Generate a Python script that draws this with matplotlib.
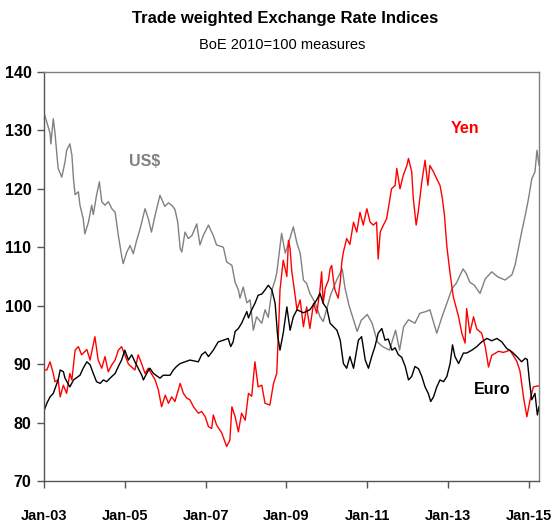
import numpy as np
import matplotlib
matplotlib.use("Agg")
import matplotlib.pyplot as plt

plt.rcParams['font.family'] = ['Liberation Sans', 'DejaVu Sans']

# time in fractional years, index values (BoE 2010=100)
usd_t = [2003.00, 2003.07, 2003.15, 2003.17, 2003.23, 2003.27, 2003.35, 2003.44, 2003.52, 2003.56,
         2003.64, 2003.69, 2003.73, 2003.77, 2003.85, 2003.89, 2003.97, 2004.01, 2004.10, 2004.18,
         2004.22, 2004.30, 2004.37, 2004.43, 2004.51, 2004.59, 2004.68, 2004.76, 2004.84, 2004.92,
         2004.96, 2005.05, 2005.13, 2005.21, 2005.29, 2005.38, 2005.50, 2005.58, 2005.66, 2005.75,
         2005.87, 2005.99, 2006.08, 2006.16, 2006.24, 2006.31, 2006.37, 2006.41, 2006.49, 2006.57,
         2006.66, 2006.78, 2006.86, 2006.94, 2007.07, 2007.19, 2007.27, 2007.44, 2007.52, 2007.65,
         2007.73, 2007.81, 2007.85, 2007.93, 2008.02, 2008.10, 2008.18, 2008.26, 2008.39, 2008.47,
         2008.55, 2008.64, 2008.72, 2008.76, 2008.88, 2008.97, 2009.05, 2009.17, 2009.26, 2009.34,
         2009.42, 2009.50, 2009.58, 2009.71, 2009.83, 2009.91, 2010.00, 2010.10, 2010.25, 2010.38,
         2010.45, 2010.55, 2010.75, 2010.85, 2011.00, 2011.12, 2011.25, 2011.38, 2011.55, 2011.70,
         2011.80, 2011.90, 2012.02, 2012.18, 2012.30, 2012.45, 2012.55, 2012.72, 2012.85, 2013.00,
         2013.10, 2013.20, 2013.37, 2013.45, 2013.54, 2013.65, 2013.79, 2013.92, 2014.08, 2014.24,
         2014.41, 2014.58, 2014.66, 2014.74, 2014.82, 2014.91, 2014.99, 2015.07, 2015.15, 2015.20,
         2015.25]
usd_v = [133.0, 131.4, 129.5, 127.7, 132.0, 129.7, 123.5, 122.0, 124.6, 126.6,
         127.7, 125.8, 121.7, 119.0, 119.5, 117.2, 114.9, 112.3, 114.3, 117.2,
         115.6, 118.9, 121.2, 117.8, 117.2, 117.8, 116.6, 116.0, 112.0, 108.6,
         107.2, 109.2, 110.3, 108.9, 111.1, 113.2, 116.6, 114.9, 112.6, 115.5,
         118.9, 117.0, 117.6, 117.2, 116.5, 114.3, 109.8, 109.2, 112.6, 111.5,
         112.0, 114.0, 110.4, 112.0, 113.8, 112.0, 110.4, 110.0, 107.5, 106.9,
         104.0, 102.7, 101.3, 103.2, 100.5, 101.0, 95.8, 98.1, 97.0, 99.3,
         98.0, 102.7, 104.4, 105.6, 112.4, 109.0, 110.7, 113.5, 110.7, 109.0,
         104.4, 103.8, 102.1, 100.5, 98.1, 97.3, 99.5, 102.0, 104.5, 106.3,
         103.0, 100.0, 95.6, 97.5, 98.5, 97.0, 93.8, 93.0, 92.4, 95.8,
         92.4, 96.4, 97.6, 97.0, 98.7, 99.0, 99.3, 95.3, 98.1, 101.0,
         103.0, 103.8, 106.3, 105.5, 104.0, 103.5, 102.1, 104.6, 105.8, 104.9,
         104.4, 105.3, 107.0, 109.8, 112.6, 115.5, 118.3, 121.7, 122.9, 126.6,
         124.1]

yen_t = [2003.00, 2003.07, 2003.15, 2003.23, 2003.27, 2003.35, 2003.40, 2003.48, 2003.56, 2003.64,
         2003.69, 2003.77, 2003.85, 2003.93, 2004.06, 2004.14, 2004.26, 2004.34, 2004.43, 2004.51,
         2004.59, 2004.68, 2004.76, 2004.84, 2004.92, 2005.00, 2005.09, 2005.25, 2005.33, 2005.42,
         2005.50, 2005.58, 2005.75, 2005.83, 2005.91, 2006.00, 2006.08, 2006.16, 2006.24, 2006.37,
         2006.45, 2006.53, 2006.61, 2006.70, 2006.82, 2006.90, 2006.99, 2007.07, 2007.15, 2007.19,
         2007.27, 2007.40, 2007.52, 2007.60, 2007.65, 2007.73, 2007.81, 2007.89, 2007.98, 2008.06,
         2008.14, 2008.22, 2008.30, 2008.39, 2008.47, 2008.59, 2008.68, 2008.76, 2008.82, 2008.84,
         2008.92, 2009.01, 2009.05, 2009.09, 2009.13, 2009.21, 2009.26, 2009.34, 2009.42, 2009.50,
         2009.58, 2009.67, 2009.75, 2009.83, 2009.87, 2009.91, 2009.96, 2010.04, 2010.08, 2010.12,
         2010.16, 2010.20, 2010.28, 2010.33, 2010.37, 2010.41, 2010.49, 2010.57, 2010.66, 2010.74,
         2010.82, 2010.90, 2010.99, 2011.07, 2011.15, 2011.23, 2011.27, 2011.32, 2011.40, 2011.48,
         2011.52, 2011.56, 2011.60, 2011.69, 2011.73, 2011.81, 2011.89, 2011.98, 2012.02, 2012.10,
         2012.14, 2012.21, 2012.26, 2012.35, 2012.43, 2012.50, 2012.55, 2012.64, 2012.72, 2012.80,
         2012.86, 2012.91, 2012.97, 2013.05, 2013.13, 2013.26, 2013.34, 2013.42, 2013.46, 2013.54,
         2013.63, 2013.71, 2013.83, 2013.92, 2014.00, 2014.08, 2014.25, 2014.37, 2014.53, 2014.70,
         2014.78, 2014.87, 2014.95, 2015.03, 2015.11, 2015.25]
yen_v = [89.0, 89.0, 90.4, 88.4, 87.0, 87.3, 84.4, 86.4, 85.0, 88.4,
         87.3, 92.4, 93.0, 91.6, 92.5, 90.7, 94.7, 90.7, 89.3, 91.3,
         88.7, 89.9, 90.7, 92.4, 93.0, 91.6, 90.0, 89.0, 91.6, 90.0,
         88.4, 89.3, 87.3, 85.6, 82.7, 84.7, 83.3, 84.4, 83.6, 86.7,
         85.0, 84.2, 83.9, 82.7, 81.6, 81.9, 81.0, 79.3, 79.0, 81.3,
         79.6, 78.2, 75.9, 77.0, 82.7, 81.0, 78.4, 81.6, 80.4, 85.0,
         84.5, 90.4, 86.1, 86.4, 83.3, 83.0, 86.7, 88.4, 98.7, 102.7,
         107.8, 105.0, 111.2, 109.8, 106.0, 102.0, 99.3, 101.0, 96.4, 99.8,
         96.1, 100.4, 98.7, 102.7, 105.8, 100.4, 103.0, 104.4, 106.3, 106.9,
         104.5, 102.7, 101.3, 104.0, 107.5, 109.2, 111.5, 110.5, 114.3, 112.6,
         116.0, 113.8, 116.6, 114.3, 113.8, 114.3, 108.0, 112.6, 113.8, 114.9,
         116.6, 118.3, 120.0, 120.6, 123.5, 120.0, 122.3, 124.0, 125.2, 122.9,
         118.3, 113.8, 116.0, 121.2, 124.9, 120.6, 124.0, 122.9, 121.7, 120.6,
         118.3, 115.5, 110.1, 105.5, 101.5, 98.1, 95.3, 93.6, 99.5, 95.3,
         98.1, 96.0, 95.3, 93.0, 89.5, 91.5, 92.2, 92.0, 92.4, 90.5,
         88.8, 84.2, 81.0, 83.9, 86.1, 86.3]

eur_t = [2003.00, 2003.07, 2003.15, 2003.23, 2003.35, 2003.40, 2003.48, 2003.52, 2003.64, 2003.73,
         2003.89, 2003.97, 2004.06, 2004.14, 2004.22, 2004.30, 2004.39, 2004.47, 2004.55, 2004.68,
         2004.76, 2004.84, 2004.92, 2005.00, 2005.09, 2005.17, 2005.25, 2005.42, 2005.46, 2005.54,
         2005.62, 2005.71, 2005.87, 2005.95, 2006.12, 2006.20, 2006.28, 2006.37, 2006.49, 2006.61,
         2006.82, 2006.90, 2006.99, 2007.07, 2007.19, 2007.31, 2007.44, 2007.56, 2007.62, 2007.68,
         2007.73, 2007.81, 2007.89, 2007.98, 2008.02, 2008.06, 2008.14, 2008.22, 2008.30, 2008.39,
         2008.47, 2008.55, 2008.64, 2008.72, 2008.78, 2008.84, 2008.92, 2009.01, 2009.09, 2009.17,
         2009.26, 2009.42, 2009.58, 2009.75, 2009.83, 2009.91, 2010.00, 2010.08, 2010.25, 2010.33,
         2010.41, 2010.49, 2010.57, 2010.66, 2010.78, 2010.86, 2010.95, 2011.03, 2011.11, 2011.19,
         2011.27, 2011.36, 2011.44, 2011.52, 2011.61, 2011.69, 2011.77, 2011.85, 2011.94, 2012.02,
         2012.10, 2012.18, 2012.27, 2012.35, 2012.43, 2012.51, 2012.57, 2012.64, 2012.72, 2012.80,
         2012.89, 2012.97, 2013.05, 2013.11, 2013.17, 2013.26, 2013.38, 2013.46, 2013.59, 2013.71,
         2013.83, 2013.96, 2014.08, 2014.21, 2014.33, 2014.45, 2014.58, 2014.70, 2014.82, 2014.91,
         2014.96, 2015.01, 2015.07, 2015.15, 2015.21, 2015.25]
eur_v = [82.0, 83.3, 84.4, 85.0, 87.3, 89.0, 88.7, 87.6, 86.1, 87.3,
         88.1, 89.3, 90.4, 89.9, 88.4, 87.0, 86.7, 87.3, 87.0, 87.9,
         88.4, 89.6, 90.7, 92.4, 90.7, 91.6, 90.4, 88.1, 87.3, 88.4,
         89.3, 88.4, 87.6, 88.1, 88.1, 89.0, 89.6, 90.1, 90.4, 90.7,
         90.4, 91.6, 92.1, 91.3, 92.4, 93.8, 94.1, 94.4, 93.0, 93.8,
         95.6, 96.1, 97.0, 98.4, 99.0, 97.9, 99.3, 100.4, 101.8, 102.0,
         102.7, 103.5, 102.7, 100.4, 95.0, 92.4, 95.3, 99.8, 95.8, 98.1,
         99.3, 98.8, 99.3, 101.0, 102.1, 100.4, 99.5, 97.0, 95.8, 94.1,
         90.1, 89.3, 91.3, 89.3, 94.1, 94.7, 90.7, 89.3, 91.3, 93.0,
         95.3, 96.1, 94.1, 94.3, 92.4, 92.8, 91.6, 91.2, 89.6, 87.3,
         87.9, 89.6, 89.2, 87.9, 86.1, 85.0, 83.6, 84.4, 86.1, 87.3,
         87.0, 87.9, 90.1, 93.3, 91.3, 90.1, 91.9, 91.9, 92.4, 93.0,
         93.8, 94.4, 94.0, 94.4, 93.8, 92.7, 92.1, 91.3, 90.4, 91.0,
         90.8, 87.3, 83.9, 85.0, 81.3, 82.7]

tick_years = [2003, 2005, 2007, 2009, 2011, 2013, 2015]
tick_labels = ["Jan-03", "Jan-05", "Jan-07", "Jan-09", "Jan-11", "Jan-13", "Jan-15"]

fig = plt.figure(figsize=(5.51, 5.26), dpi=100)
ax = fig.add_axes([44/551, 1-481/526, (539-44)/551, (481-72)/526])

ax.plot(usd_t, usd_v, color="#808080", lw=1.0)
ax.plot(yen_t, yen_v, color="#ff0000", lw=1.0)
ax.plot(eur_t, eur_v, color="black", lw=1.0)

ax.set_xlim(2003.0, 2015.25)
ax.set_ylim(70, 140)
ax.set_yticks(range(70, 141, 10))
ax.set_xticks(tick_years)
ax.set_xticklabels(tick_labels)

for lab in ax.get_yticklabels():
    lab.set_fontweight("bold")
    lab.set_fontsize(11.5)
for lab in ax.get_xticklabels():
    lab.set_fontweight("bold")
    lab.set_fontsize(10.5)

ax.tick_params(axis="both", direction="out", length=5, width=1, color="#555555")
ax.tick_params(axis="y", pad=4)
ax.tick_params(axis="x", pad=15)
ax.spines["top"].set_color("#808080")
ax.spines["right"].set_color("#808080")
ax.spines["left"].set_color("#555555")
ax.spines["bottom"].set_color("#555555")
for s in ax.spines.values():
    s.set_linewidth(1)

ax.text(2005.5, 124.6, "US$", color="#808080", fontsize=11.5, fontweight="bold", ha="center", va="center")
ax.text(2013.42, 130.4, "Yen", color="#ff0000", fontsize=11.5, fontweight="bold", ha="center", va="center")
ax.text(2014.09, 85.6, "Euro", color="black", fontsize=11.5, fontweight="bold", ha="center", va="center")

fig.text(285/551, 1-18/526, "Trade weighted Exchange Rate Indices", fontsize=12, fontweight="bold",
         ha="center", va="center")
fig.text(282/551, 1-45/526, "BoE 2010=100 measures", fontsize=10.5, ha="center", va="center")

fig.savefig("out.png", dpi=100)
